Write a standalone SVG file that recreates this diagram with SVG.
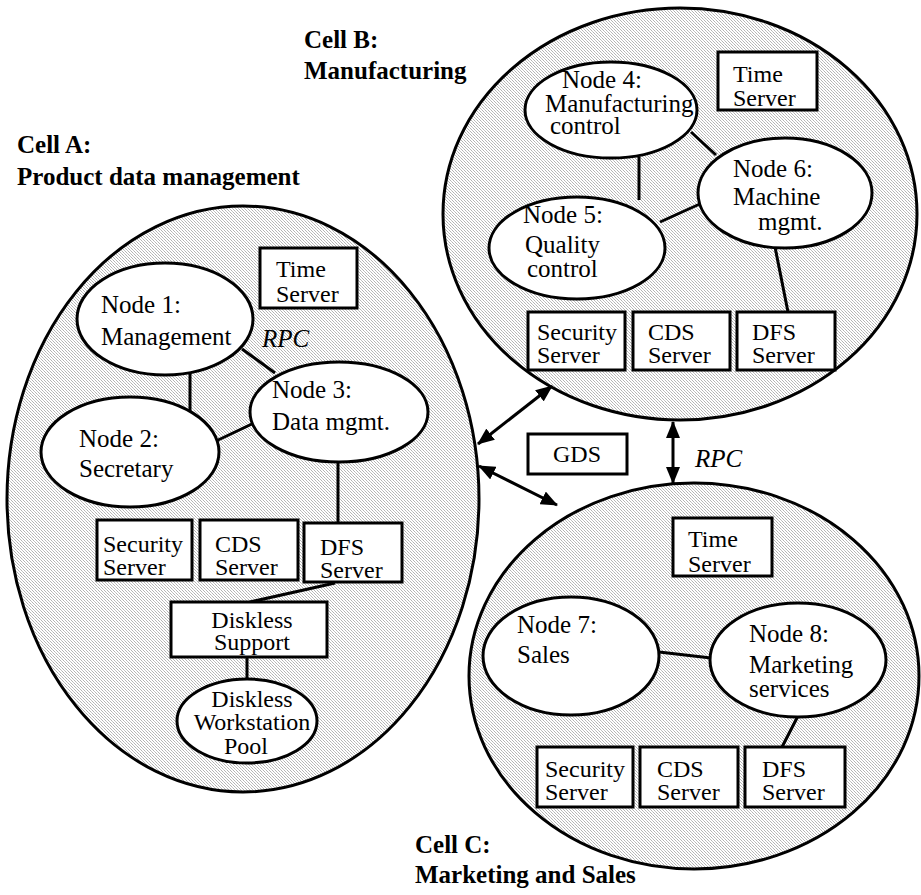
<svg xmlns="http://www.w3.org/2000/svg" width="921" height="895" viewBox="0 0 921 895">
  <defs>
    <!-- fine halftone fill used for the cell areas -->
    <pattern id="halftone" width="3" height="3" patternUnits="userSpaceOnUse">
      <rect width="3" height="3" fill="#ffffff"/>
      <rect x="0" y="0" width="1" height="1" fill="#b4b4b4"/>
      <rect x="1" y="1" width="1" height="1" fill="#c4c4c4"/>
      <rect x="2" y="2" width="1" height="1" fill="#b4b4b4"/>
    </pattern>
    <marker id="head" markerUnits="userSpaceOnUse" markerWidth="18" markerHeight="14" refX="16" refY="7" orient="auto-start-reverse">
      <path d="M0,0 L17,7 L0,14 Z" fill="#000"/>
    </marker>
  </defs>
  <style>
    .cell { fill: url(#halftone); stroke: #000; stroke-width: 3; }
    .node { fill: #fff; stroke: #000; stroke-width: 3; }
    .box { fill: #fff; stroke: #000; stroke-width: 3; }
    .link { stroke: #000; stroke-width: 3; fill: none; }
    .arrow { stroke: #000; stroke-width: 3; fill: none; marker-start: url(#head); marker-end: url(#head); }
    text { font-family: "Liberation Serif", "Times New Roman", serif; font-size: 25px; fill: #000; }
    .box + text, .box ~ text { font-size: 24px; }
    .title { font-weight: bold; }
    .it { font-style: italic; }
  </style>

  <rect width="921" height="895" fill="#fff"/>

  <!-- cell areas -->
  <g id="cell-a">
    <ellipse class="cell" cx="243" cy="499" rx="236" ry="293"/>
    <text class="title" x="17" y="153">Cell A:</text>
    <text class="title" x="17" y="185">Product data management</text>
  </g>
  <g id="cell-b">
    <ellipse class="cell" cx="680" cy="214" rx="237" ry="206"/>
    <text class="title" x="304" y="48">Cell B:</text>
    <text class="title" x="304" y="79">Manufacturing</text>
  </g>
  <g id="cell-c">
    <ellipse class="cell" cx="694" cy="676" rx="225" ry="193"/>
    <text class="title" x="415" y="853">Cell C:</text>
    <text class="title" x="415" y="883">Marketing and Sales</text>
  </g>

  <!-- connectors -->
  <g id="connectors">
    <!-- cell A -->
    <line class="link" x1="190" y1="374" x2="190" y2="412"/>
    <line class="link" x1="242" y1="349" x2="275" y2="373"/>
    <line class="link" x1="216" y1="441" x2="254" y2="423"/>
    <line class="link" x1="338" y1="461" x2="338" y2="523"/>
    <line class="link" x1="335" y1="583" x2="250" y2="602"/>
    <line class="link" x1="247" y1="657" x2="247" y2="680"/>
    <!-- cell B -->
    <line class="link" x1="639" y1="157" x2="639" y2="200"/>
    <line class="link" x1="691" y1="132" x2="716" y2="155"/>
    <line class="link" x1="660" y1="222" x2="702" y2="203"/>
    <line class="link" x1="775" y1="247" x2="788" y2="312"/>
    <!-- cell C -->
    <line class="link" x1="659" y1="652" x2="711" y2="658"/>
    <line class="link" x1="798" y1="716" x2="782" y2="747"/>
    <!-- between cells -->
    <line class="arrow" x1="478" y1="444" x2="552" y2="386"/>
    <line class="arrow" x1="479" y1="466" x2="557" y2="505"/>
    <line class="arrow" x1="673" y1="422" x2="673" y2="483"/>
    <text class="it" x="262" y="347">RPC</text>
    <text class="it" x="695" y="467">RPC</text>
  </g>

  <!-- cell A nodes -->
  <g id="time-a">
    <rect class="box" x="260" y="248" width="97" height="60"/>
    <text x="276" y="277">Time</text>
    <text x="276" y="302">Server</text>
  </g>
  <g id="node-1">
    <ellipse class="node" cx="165" cy="319" rx="88" ry="56"/>
    <text x="101" y="313">Node 1:</text>
    <text x="101" y="345">Management</text>
  </g>
  <g id="node-3">
    <ellipse class="node" cx="339" cy="412" rx="89" ry="50"/>
    <text x="272" y="398">Node 3:</text>
    <text x="272" y="430">Data mgmt.</text>
  </g>
  <g id="node-2">
    <ellipse class="node" cx="130" cy="452" rx="89" ry="55"/>
    <text x="79" y="447">Node 2:</text>
    <text x="79" y="477">Secretary</text>
  </g>
  <g id="security-a">
    <rect class="box" x="97" y="520" width="95" height="60"/>
    <text x="103" y="552">Security</text>
    <text x="103" y="575">Server</text>
  </g>
  <g id="cds-a">
    <rect class="box" x="200" y="520" width="98" height="60"/>
    <text x="215" y="552">CDS</text>
    <text x="215" y="575">Server</text>
  </g>
  <g id="dfs-a">
    <rect class="box" x="304" y="523" width="98" height="59"/>
    <text x="320" y="555">DFS</text>
    <text x="320" y="578">Server</text>
  </g>
  <g id="diskless-support">
    <rect class="box" x="171" y="602" width="156" height="55"/>
    <text x="252" y="628" text-anchor="middle">Diskless</text>
    <text x="252" y="650" text-anchor="middle">Support</text>
  </g>
  <g id="diskless-pool">
    <ellipse class="node" cx="247" cy="721" rx="70" ry="42"/>
    <text x="252" y="707" text-anchor="middle" style="font-size:24px">Diskless</text>
    <text x="252" y="730" text-anchor="middle" style="font-size:24px">Workstation</text>
    <text x="246" y="754" text-anchor="middle" style="font-size:24px">Pool</text>
  </g>

  <!-- cell B nodes -->
  <g id="time-b">
    <rect class="box" x="718" y="52" width="99" height="58"/>
    <text x="733" y="82">Time</text>
    <text x="733" y="106">Server</text>
  </g>
  <g id="node-4">
    <ellipse class="node" cx="611" cy="110" rx="86" ry="48"/>
    <text x="562" y="88">Node 4:</text>
    <text x="545" y="112">Manufacturing</text>
    <text x="550" y="134">control</text>
  </g>
  <g id="node-6">
    <ellipse class="node" cx="785" cy="193" rx="87" ry="55"/>
    <text x="733" y="177">Node 6:</text>
    <text x="733" y="205">Machine</text>
    <text x="758" y="230">mgmt.</text>
  </g>
  <g id="node-5">
    <ellipse class="node" cx="577" cy="248" rx="88" ry="51"/>
    <text x="523" y="223">Node 5:</text>
    <text x="525" y="253">Quality</text>
    <text x="527" y="277">control</text>
  </g>
  <g id="security-b">
    <rect class="box" x="528" y="312" width="97" height="58"/>
    <text x="537" y="340">Security</text>
    <text x="537" y="363">Server</text>
  </g>
  <g id="cds-b">
    <rect class="box" x="633" y="312" width="97" height="58"/>
    <text x="648" y="340">CDS</text>
    <text x="648" y="363">Server</text>
  </g>
  <g id="dfs-b">
    <rect class="box" x="737" y="312" width="98" height="58"/>
    <text x="752" y="340">DFS</text>
    <text x="752" y="363">Server</text>
  </g>

  <!-- global directory service -->
  <g id="gds">
    <rect class="box" x="528" y="434" width="99" height="40"/>
    <text x="553" y="462">GDS</text>
  </g>

  <!-- cell C nodes -->
  <g id="time-c">
    <rect class="box" x="673" y="518" width="99" height="58"/>
    <text x="688" y="547">Time</text>
    <text x="688" y="572">Server</text>
  </g>
  <g id="node-7">
    <ellipse class="node" cx="571" cy="656" rx="88" ry="59"/>
    <text x="517" y="633">Node 7:</text>
    <text x="517" y="663">Sales</text>
  </g>
  <g id="node-8">
    <ellipse class="node" cx="798" cy="660" rx="88" ry="57"/>
    <text x="749" y="642">Node 8:</text>
    <text x="749" y="673">Marketing</text>
    <text x="749" y="697">services</text>
  </g>
  <g id="security-c">
    <rect class="box" x="537" y="747" width="96" height="60"/>
    <text x="545" y="777">Security</text>
    <text x="545" y="800">Server</text>
  </g>
  <g id="cds-c">
    <rect class="box" x="640" y="747" width="98" height="60"/>
    <text x="657" y="777">CDS</text>
    <text x="657" y="800">Server</text>
  </g>
  <g id="dfs-c">
    <rect class="box" x="745" y="747" width="100" height="60"/>
    <text x="762" y="777">DFS</text>
    <text x="762" y="800">Server</text>
  </g>
</svg>
